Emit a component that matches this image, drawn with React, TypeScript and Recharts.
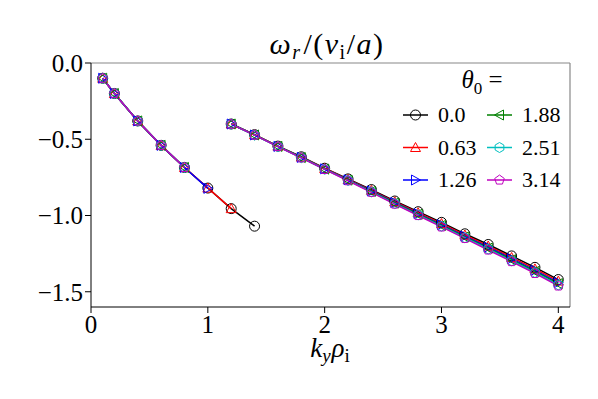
import React from 'react';
import { LineChart, Line, XAxis, YAxis, ReferenceLine } from 'recharts';

// k_y rho_i values for the two branches
const xLeft = [0.1, 0.2, 0.4, 0.6, 0.8, 1.0, 1.2, 1.4];
const xRight = [1.2, 1.4, 1.6, 1.8, 2.0, 2.2, 2.4, 2.6, 2.8, 3.0, 3.2, 3.4, 3.6, 3.8, 4.0];

const thetaLabels = ['0.0', '0.63', '1.26', '1.88', '2.51', '3.14'];
const colors = ['#000000', '#ff0000', '#0000ff', '#008000', '#00bfbf', '#bf00bf'];
const shapes = ['circle', 'triUp', 'triRight', 'triLeft', 'hexagon', 'pentagon'];

// left branch (lower ky), each theta stops at a different ky
const left00 = [-0.1, -0.2, -0.38, -0.54, -0.685, -0.82, -0.955, -1.07];
const left063 = [-0.1, -0.2, -0.38, -0.54, -0.685, -0.82, -0.955];
const left126 = [-0.1, -0.2, -0.38, -0.54, -0.685, -0.822];
const left188 = [-0.1, -0.2, -0.38, -0.54, -0.685];
const left251 = [-0.1, -0.2, -0.38, -0.54, -0.685];
const left314 = [-0.1, -0.2, -0.38, -0.54, -0.685];

// right branch
const right00 = [-0.4, -0.47, -0.545, -0.615, -0.69, -0.76, -0.83, -0.905, -0.975, -1.045, -1.12, -1.19, -1.265, -1.34, -1.42];
const right063 = [-0.4, -0.47, -0.545, -0.617, -0.692, -0.763, -0.835, -0.91, -0.982, -1.053, -1.128, -1.2, -1.275, -1.35, -1.43];
const right126 = [-0.4, -0.472, -0.547, -0.619, -0.694, -0.766, -0.839, -0.915, -0.988, -1.06, -1.135, -1.208, -1.283, -1.36, -1.44];
const right188 = [-0.4, -0.472, -0.547, -0.62, -0.696, -0.768, -0.842, -0.918, -0.992, -1.065, -1.14, -1.214, -1.29, -1.367, -1.447];
const right251 = [-0.401, -0.473, -0.548, -0.621, -0.697, -0.77, -0.845, -0.922, -0.996, -1.07, -1.146, -1.22, -1.297, -1.374, -1.455];
const right314 = [-0.401, -0.473, -0.548, -0.622, -0.698, -0.772, -0.848, -0.925, -1.0, -1.075, -1.15, -1.226, -1.302, -1.38, -1.462];

const leftSets = [left00, left063, left126, left188, left251, left314];
const rightSets = [right00, right063, right126, right188, right251, right314];

const xTicks = [0, 1, 2, 3, 4];
const yTicks = [-1.5, -1.0, -0.5, 0.0];
const xDomain = [0, 4.1];
const yDomain = [-1.6, 0];

const FONT = '"Liberation Serif", "DejaVu Serif", serif';

const toRows = (xs: number[], ys: number[]) => ys.map((y, i) => ({ x: xs[i], y }));

function polygon(n: number, r: number, rot: number) {
  const pts: string[] = [];
  for (let i = 0; i < n; i++) {
    const a = rot + (i * 2 * Math.PI) / n;
    pts.push(`${(r * Math.cos(a)).toFixed(2)},${(r * Math.sin(a)).toFixed(2)}`);
  }
  return pts.join(' ');
}

function Marker({ shape, color, cx, cy }: { shape: string; color: string; cx: number; cy: number }) {
  const r = 5;
  const common = { fill: 'none', stroke: color, strokeWidth: 1 };
  let el: React.ReactNode;
  if (shape === 'circle') el = <circle cx={0} cy={0} r={r} {...common} />;
  else if (shape === 'triUp') el = <polygon points={`0,${-r} ${r},${r * 0.8} ${-r},${r * 0.8}`} {...common} />;
  else if (shape === 'triRight') el = <polygon points={`${r},0 ${-r * 0.8},${-r} ${-r * 0.8},${r}`} {...common} />;
  else if (shape === 'triLeft') el = <polygon points={`${-r},0 ${r * 0.8},${-r} ${r * 0.8},${r}`} {...common} />;
  else if (shape === 'hexagon') el = <polygon points={polygon(6, r, -Math.PI / 2)} {...common} />;
  else el = <polygon points={polygon(5, r, -Math.PI / 2)} {...common} />;
  return <g transform={`translate(${cx},${cy})`}>{el}</g>;
}

const makeDot = (shape: string, color: string) => (props: any) => {
  const { cx, cy, index } = props;
  if (cx == null || cy == null) return <g key={index} />;
  return <Marker key={index} shape={shape} color={color} cx={cx} cy={cy} />;
};

const fmt = (v: number) => v.toFixed(1).replace('-', '\u2212');

function LegendBox() {
  const rows = [0, 1, 2];
  return (
    <svg width={180} height={130} style={{ display: 'block' }}>
      <text x={85} y={24} textAnchor="middle" fontFamily={FONT} fontSize={25}>
        <tspan fontStyle="italic">θ</tspan>
        <tspan fontSize={17} dy={6}>0</tspan>
        <tspan dy={-6}> =</tspan>
      </text>
      {rows.map((row) =>
        [0, 1].map((col) => {
          const i = col * 3 + row;
          const y = 51 + row * 32.5;
          const x0 = col === 0 ? 6 : 90;
          return (
            <g key={i}>
              <line x1={x0} x2={x0 + 25} y1={y} y2={y} stroke={colors[i]} strokeWidth={1.5} />
              <Marker shape={shapes[i]} color={colors[i]} cx={x0 + 12.5} cy={y} />
              <text x={x0 + 35} y={y + 7} fontFamily={FONT} fontSize={22}>
                {thetaLabels[i]}
              </text>
            </g>
          );
        })
      )}
    </svg>
  );
}

function Labels() {
  return (
    <svg width={598} height={399} style={{ position: 'absolute', left: 0, top: 0, pointerEvents: 'none' }}>
      <text x={327} y={54} textAnchor="middle" fontFamily={FONT} fontSize={30} letterSpacing={1.5}>
        <tspan fontStyle="italic">ω</tspan>
        <tspan fontStyle="italic" fontSize={20} dy={5}>r</tspan>
        <tspan dy={-5} dx={2}>/(</tspan>
        <tspan fontStyle="italic">v</tspan>
        <tspan fontSize={20} dy={5}>i</tspan>
        <tspan dy={-5}>/</tspan>
        <tspan fontStyle="italic">a</tspan>
        <tspan>)</tspan>
      </text>
      <text x={330} y={357} textAnchor="middle" fontFamily={FONT} fontSize={27}>
        <tspan fontStyle="italic">k</tspan>
        <tspan fontStyle="italic" fontSize={19} dy={5}>y</tspan>
        <tspan fontStyle="italic" dy={-5} dx={1}>ρ</tspan>
        <tspan fontSize={19} dy={5}>i</tspan>
      </text>
    </svg>
  );
}

export default function App() {
  return (
    <div style={{ position: 'absolute', left: 0, top: 0, width: 598, height: 399, background: '#fff' }}>
      <LineChart width={598} height={399} margin={{ top: 63, right: 28, bottom: 52, left: 0 }}>
        <XAxis
          xAxisId="b"
          type="number"
          dataKey="x"
          domain={xDomain}
          ticks={xTicks}
          allowDataOverflow
          axisLine={{ stroke: '#000' }}
          tickLine={{ stroke: '#000' }}
          tickSize={6}
          height={40}
          tick={{ fontFamily: FONT, fontSize: 25, fill: '#000' }}
          tickMargin={2}
        />
        <YAxis
          yAxisId="l"
          type="number"
          domain={yDomain}
          ticks={yTicks}
          allowDataOverflow
          width={91}
          axisLine={{ stroke: '#000' }}
          tickLine={{ stroke: '#000' }}
          tickSize={6}
          tickMargin={2}
          tickFormatter={fmt}
          tick={{ fontFamily: FONT, fontSize: 25, fill: '#000' }}
        />
        <ReferenceLine xAxisId="b" yAxisId="l" y={0} stroke="#888" strokeWidth={1.2} ifOverflow="extendDomain" />
        <ReferenceLine xAxisId="b" yAxisId="l" x={4.1} stroke="#888" strokeWidth={1.2} ifOverflow="extendDomain" />
        {colors.map((c, i) => (
          <Line
            key={`l${i}`}
            xAxisId="b"
            yAxisId="l"
            data={toRows(xLeft, leftSets[i])}
            dataKey="y"
            stroke={c}
            strokeWidth={1.5}
            dot={makeDot(shapes[i], c)}
            isAnimationActive={false}
            legendType="none"
          />
        ))}
        {colors.map((c, i) => (
          <Line
            key={`r${i}`}
            xAxisId="b"
            yAxisId="l"
            data={toRows(xRight, rightSets[i])}
            dataKey="y"
            stroke={c}
            strokeWidth={1.5}
            dot={makeDot(shapes[i], c)}
            isAnimationActive={false}
            legendType="none"
          />
        ))}
      </LineChart>
      <Labels />
      <div style={{ position: 'absolute', left: 397, top: 64 }}>
        <LegendBox />
      </div>
    </div>
  );
}
